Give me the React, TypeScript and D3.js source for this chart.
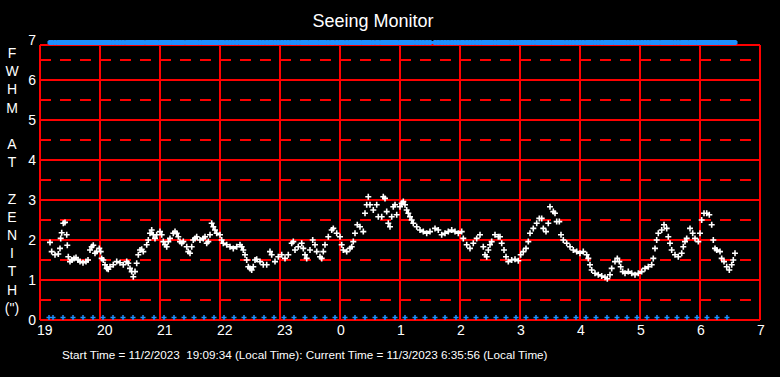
import React from "react";
import * as d3 from "d3";

// minutes since 19:00 local time
const minutes = [
  10, 11.7, 15, 18.3, 20, 20.7, 21.7, 23.3, 25, 26.7, 27.3, 28.3, 30, 32, 34, 36, 38, 40, 43, 46, 48,
  50, 51.7, 53.3, 55, 56.7, 59.3, 60.7, 61.7, 63.3, 65, 66.7, 68.3, 70, 73.3, 76.7, 80, 83.3, 86.7,
  88.3, 90, 91.7, 93.3, 95, 96.7, 98.3, 100, 101.7, 103.3, 106.7, 108.3, 110, 111.7, 113.3, 115,
  116.7, 120, 121.7, 123.3, 125, 126.7, 128.3, 130, 133.3, 135, 136.7, 138.3, 140, 141.7, 143.3,
  146.7, 148.3, 150, 151.7, 153.3, 155, 156.7, 160, 163.3, 165, 166.7, 168.3, 170, 171.7, 173.3,
  175, 176.7, 180, 181.7, 183.3, 186.7, 190, 193.3, 196.7, 200, 201.7, 203.3, 205, 206.7, 208.3,
  210, 211.7, 213.3, 215, 216.7, 220, 223.3, 226.7,
  230, 231.7, 235, 238.3, 241.7, 245, 248.3, 251.7, 253.3, 255, 258.3, 261.7, 263.3, 265, 266.7,
  270, 272.7, 275, 276.7, 280, 281.7, 283.3, 285, 288.3, 291.7, 293.3, 296.7, 300, 301.7, 303.3,
  306.7, 310, 311.7, 313.3, 315, 317.3, 320, 323.3, 325, 326.7, 328.3, 330, 333.3, 336.7, 338.3,
  341.7, 343.3, 345, 346.7, 348.3, 350, 351.7, 353.3, 355, 356.7, 360, 361.7, 363.3, 365, 366.7,
  368.3, 370, 371.7, 373.3, 376.7, 380, 383.3, 386.7, 390, 395, 398.3, 401.7, 405, 408.3, 411.7,
  415, 418.3, 421.7, 423.3, 426.7, 430, 433.3, 436.7, 440, 443.3, 445, 446.7, 448.3, 450, 451.7,
  455, 458.3,
  460, 461.7, 464, 466, 468.3, 471.7, 475, 478.3, 480.7, 483.3, 486, 488.3, 490, 493.3, 496.7,
  499.3, 501.7, 503.3, 506, 508.3, 510, 513.3, 515, 516.7, 519.3, 521, 523.3, 526.7, 530, 533.3,
  536.7, 540, 543.3, 546.7, 548.3, 550, 551.7, 555, 558.3, 561.7, 565, 567.3, 570, 571.7, 575,
  577.3, 579.3, 580.7, 582.7, 585, 588.3, 591.7, 595, 598.3, 601.7, 605, 608.3, 611.7, 613.3, 615,
  616.7, 618.3, 621.7, 624, 626.7, 628.3, 630, 631.7, 635, 638.3, 641.7, 643.3, 645, 646.7, 650,
  652.7, 655, 658.3, 660, 661.7, 664, 666.7, 669.3, 671.7, 673.3, 675, 676.7, 680, 681.7, 684,
  686.7, 689.3, 691.7, 693.3, 695,
];

// FWHM at zenith (arcsec)
const fwhm = [
  1.94, 1.71, 1.63, 1.65, 1.79, 2.04, 2.18, 2.42, 2.44, 2.13, 1.87, 1.58, 1.46, 1.5, 1.54, 1.56, 1.5, 1.46, 1.43, 1.46, 1.5,
  1.75, 1.83, 1.87, 1.67, 1.71, 1.79, 1.71, 1.54, 1.5, 1.38, 1.29, 1.27, 1.33, 1.38, 1.46, 1.43, 1.38, 1.46,
  1.42, 1.29, 1.21, 1.08, 1.21, 1.42, 1.63, 1.75, 1.77, 1.71, 1.88, 2.0, 2.17, 2.25, 2.13, 2.04,
  2.13, 2.21, 2.13, 1.96, 1.88, 1.83, 1.96, 2.04, 2.17, 2.21, 2.17, 2.08, 1.96, 1.92, 1.96,
  1.83, 1.71, 1.67, 1.83, 2.0, 2.04, 2.08, 2.0, 2.04, 2.08, 1.92, 1.96, 2.13, 2.42, 2.33,
  2.25, 2.17, 2.13, 2.0, 1.92, 1.88, 1.83, 1.79, 1.83, 1.88, 1.83, 1.75, 1.63, 1.5, 1.33,
  1.29, 1.25, 1.33, 1.5, 1.52, 1.46, 1.38, 1.38,
  1.71, 1.63, 1.46, 1.58, 1.63, 1.54, 1.63, 1.92, 1.96, 1.75, 1.83, 1.92, 1.79, 1.63, 1.54,
  1.75, 2.0, 1.88, 1.71, 1.58, 1.54, 1.71, 1.88, 2.08, 2.25, 2.29, 2.17, 2.08, 1.88, 1.75,
  1.71, 1.79, 1.83, 1.96, 2.17, 2.38, 2.33, 2.21, 2.67, 2.88, 3.08, 2.88, 2.75, 2.88, 2.58,
  2.58, 3.08, 3.04, 2.71, 2.42, 2.33, 2.58, 2.83, 2.88, 2.63, 2.83, 2.92, 2.96, 2.88, 2.75,
  2.67, 2.58, 2.5, 2.42, 2.33, 2.25, 2.21, 2.17, 2.21, 2.29, 2.25, 2.13, 2.17, 2.21, 2.25,
  2.21, 2.17, 2.21, 2.04, 1.88, 1.79, 1.92, 2.04, 2.13, 1.83, 1.63, 1.58, 1.75, 1.88, 1.96,
  2.13, 2.08,
  2.08, 1.92, 1.75, 1.58, 1.46, 1.5, 1.52, 1.48, 1.63, 1.71, 1.79, 1.96, 2.17, 2.29, 2.42,
  2.54, 2.54, 2.29, 2.21, 2.42, 2.83, 2.71, 2.67, 2.46, 2.46, 2.13, 2.0, 1.92, 1.83, 1.75,
  1.71, 1.67, 1.71, 1.63, 1.54, 1.38, 1.25, 1.17, 1.13, 1.1, 1.07, 1.03, 1.13, 1.29, 1.46,
  1.54, 1.46, 1.33, 1.21, 1.17, 1.21, 1.17, 1.13, 1.17, 1.21, 1.29, 1.33, 1.38, 1.54, 1.79,
  2.0, 2.17, 2.25, 2.38, 2.29, 2.08, 1.92, 1.75, 1.63, 1.58, 1.67, 1.83, 1.96, 2.04, 2.29,
  2.17, 2.04, 1.96, 2.17, 2.5, 2.67, 2.67, 2.63, 2.38, 2.0, 1.79, 1.75, 1.71, 1.54, 1.46,
  1.33, 1.25, 1.38, 1.5, 1.67,
];

// times of the blue status marks along the bottom (minutes since 19:00)
const statusMinutes = [
  9, 13, 23, 33, 43, 53, 63, 73, 83, 93, 103, 114, 124, 134, 144, 154, 164, 174, 184, 194, 204,
  214, 224, 234, 244, 254, 265, 275, 285, 295, 305, 315, 325, 335, 345, 355, 365, 375, 385, 395,
  405, 416, 426, 436, 446, 456, 466, 476, 486, 496, 506, 516, 526, 536, 546, 556, 567, 577, 587,
  597, 607, 617, 627, 637, 647, 657, 667, 677, 687,
];

const hourLabels = ["19", "20", "21", "22", "23", "0", "1", "2", "3", "4", "5", "6", "7"];
const yTicks = [0, 1, 2, 3, 4, 5, 6, 7];
const yHalfTicks = [0.5, 1.5, 2.5, 3.5, 4.5, 5.5, 6.5];
const yAxisLetters = ["F", "W", "H", "M", "", "A", "T", "", "Z", "E", "N", "I", "T", "H", "(\")"];

const title = "Seeing Monitor";
const footer =
  "Start Time = 11/2/2023  19:09:34 (Local Time): Current Time = 11/3/2023 6:35:56 (Local Time)";

const W = 780;
const H = 377;
const FONT = "'Liberation Sans', Arial, sans-serif";

export default function App() {
  const x = d3.scaleLinear().domain([0, 720]).range([40, 760]);
  const y = d3.scaleLinear().domain([0, 7]).range([320, 40]);
  const frameTop = 45;
  const hourX = d3.scaleLinear().domain([0, 12]).range([40, 760]);

  const plus = (cx: number, cy: number, r: number) =>
    `M${cx - r},${cy}h${2 * r}M${cx},${cy - r}v${2 * r}`;

  const dataPath = minutes.map((m, i) => plus(x(m), y(fwhm[i]), 3)).join("");
  const topPath = minutes.map((m) => plus(x(m), y(7) + 2.5, 2.5)).join("");
  const bottomPath = statusMinutes.map((m) => plus(x(m), y(0) - 2.5, 2.5)).join("");

  return (
    <svg
      width={W}
      height={H}
      style={{ position: "absolute", left: 0, top: 0, background: "#000" }}
      fontFamily={FONT}
    >
      <rect x={0} y={0} width={W} height={H} fill="#000" />
      <text x={373} y={27} fill="#fff" fontSize={18} textAnchor="middle">
        {title}
      </text>

      {/* half-unit dashed lines */}
      {yHalfTicks.map((t) => (
        <line
          key={"h" + t}
          x1={40}
          x2={760}
          y1={y(t)}
          y2={y(t)}
          stroke="#ff0000"
          strokeWidth={2}
          strokeDasharray="11 9"
          shapeRendering="crispEdges"
        />
      ))}
      {/* unit solid lines */}
      {yTicks.slice(0, 7).map((t) => (
        <line
          key={"s" + t}
          x1={40}
          x2={760}
          y1={y(t)}
          y2={y(t)}
          stroke="#ff0000"
          strokeWidth={2}
          shapeRendering="crispEdges"
        />
      ))}
      <line x1={40} x2={760} y1={frameTop} y2={frameTop} stroke="#ff0000" strokeWidth={2} shapeRendering="crispEdges" />
      {/* hour lines */}
      {hourLabels.map((_, i) => (
        <line
          key={"v" + i}
          x1={hourX(i)}
          x2={hourX(i)}
          y1={frameTop}
          y2={y(0)}
          stroke="#ff0000"
          strokeWidth={2}
          shapeRendering="crispEdges"
        />
      ))}

      {/* data */}
      <path d={dataPath} stroke="#ffffff" strokeWidth={1.6} fill="none" />
      <path d={topPath} stroke="#1e90ff" strokeWidth={3.2} fill="none" />
      <path d={bottomPath} stroke="#1e90ff" strokeWidth={1.5} fill="none" />

      {/* y tick labels */}
      {yTicks.map((t) => (
        <text
          key={"yl" + t}
          x={36}
          y={y(t)}
          fill="#fff"
          fontSize={14}
          textAnchor="end"
          dominantBaseline="central"
        >
          {t}
        </text>
      ))}
      {/* x tick labels */}
      {hourLabels.map((l, i) => (
        <text key={"xl" + i} x={hourX(i) - 3} y={335} fill="#fff" fontSize={14}>
          {l}
        </text>
      ))}
      {/* vertical y-axis title */}
      {yAxisLetters.map((c, i) => (
        <text
          key={"ya" + i}
          x={12}
          y={53 + 18.2 * i}
          fill="#fff"
          fontSize={14}
          textAnchor="middle"
          dominantBaseline="central"
        >
          {c}
        </text>
      ))}
      <text x={62} y={359} fill="#fff" fontSize={11.7} style={{ whiteSpace: "pre" }}>
        {footer}
      </text>
    </svg>
  );
}
